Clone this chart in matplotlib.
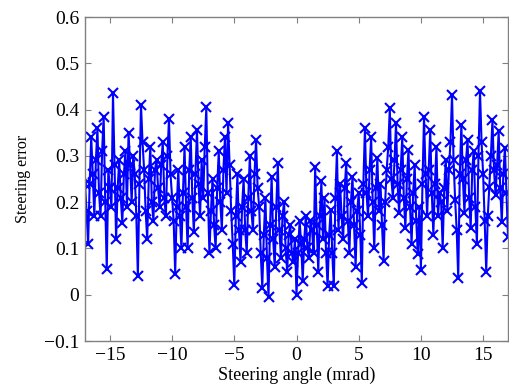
import numpy as np
import matplotlib
matplotlib.use("Agg")
import matplotlib.pyplot as plt

plt.rcParams['font.family'] = ['Liberation Serif', 'DejaVu Serif']
plt.rcParams['axes.unicode_minus'] = True

# Steering error, angle grid from -17 to 17 mrad.
angle_start, angle_end = -17.0, 17.0
# samples at the grid points -17, -16.75, ..., 17
error_main = [
    0.24, 0.11, 0.34, 0.17, 0.36, 0.17, 0.385, 0.055, 0.23, 0.435,
    0.12, 0.29, 0.155, 0.31, 0.35, 0.20, 0.26, 0.04, 0.41, 0.27,
    0.12, 0.32, 0.16, 0.29, 0.19, 0.33, 0.17, 0.38, 0.21, 0.045,
    0.27, 0.10, 0.32, 0.10, 0.34, 0.135, 0.355, 0.17, 0.21, 0.405,
    0.09, 0.25, 0.10, 0.31, 0.14, 0.34, 0.37, 0.18, 0.02, 0.26,
    0.07, 0.25, 0.09, 0.30, 0.14, 0.335, 0.19, 0.015, 0.21, -0.005,
    0.255, 0.06, 0.285, 0.08, 0.20, 0.05, 0.15, 0.07, 0.0, 0.16,
    0.03, 0.17, 0.08, 0.14, 0.275, 0.05, 0.245, 0.21, 0.018, 0.183,
    0.018, 0.31, 0.24, 0.12, 0.285, 0.09, 0.255, 0.06, 0.22, 0.025,
    0.36, 0.17, 0.34,
    0.10, 0.295, 0.24, 0.072, 0.27, 0.403, 0.21, 0.37, 0.176, 0.34,
    0.144, 0.313, 0.11, 0.28, 0.087, 0.054, 0.385,
    0.17, 0.356, 0.13, 0.32, 0.22, 0.10, 0.29, 0.27, 0.432, 0.205,
    0.036, 0.367, 0.176, 0.335, 0.144, 0.31, 0.11, 0.44, 0.26, 0.05,
    0.233, 0.378, 0.215, 0.353, 0.157, 0.317, 0.125,
]
# samples half-way between those grid points
error_mid = [
    0.18, 0.24, 0.26, 0.29, 0.22, 0.31, 0.20, 0.27, 0.19, 0.28,
    0.23, 0.21, 0.26, 0.19, 0.28, 0.30, 0.17, 0.24, 0.33, 0.18,
    0.25, 0.20, 0.27, 0.23, 0.28, 0.21, 0.30, 0.26, 0.16, 0.19,
    0.17, 0.22, 0.19, 0.27, 0.21, 0.26, 0.24, 0.29, 0.32, 0.22,
    0.18, 0.15, 0.23, 0.20, 0.27, 0.22, 0.28, 0.11, 0.17, 0.14,
    0.19, 0.14, 0.21, 0.18, 0.26, 0.23, 0.09, 0.13, 0.08, 0.15,
    0.12, 0.19, 0.14, 0.17, 0.10, 0.13, 0.09, 0.12, 0.09, 0.11,
    0.12, 0.10, 0.16, 0.09, 0.15, 0.17, 0.12, 0.09, 0.13, 0.09,
    0.21, 0.14, 0.17, 0.23, 0.16, 0.20, 0.15, 0.18, 0.13, 0.24,
    0.22, 0.27, 0.20,
    0.23, 0.18, 0.15, 0.20, 0.32, 0.25, 0.29, 0.24, 0.27, 0.21,
    0.25, 0.19, 0.22, 0.16, 0.19, 0.24, 0.26,
    0.27, 0.22, 0.24, 0.17, 0.20, 0.23, 0.18, 0.33, 0.29, 0.14,
    0.26, 0.25, 0.29, 0.21, 0.27, 0.19, 0.30, 0.33, 0.16, 0.17,
    0.30, 0.27, 0.28, 0.23, 0.26, 0.22,
]

steering_error = np.empty(len(error_main) + len(error_mid))
steering_error[0::2] = error_main
steering_error[1::2] = error_mid
steering_angle = np.linspace(angle_start, angle_end, len(steering_error))

x_ticks = [-15, -10, -5, 0, 5, 10, 15]
y_ticks = [-0.1, 0, 0.1, 0.2, 0.3, 0.4, 0.5, 0.6]
y_tick_labels = ["\u22120.1", "0", "0.1", "0.2", "0.3", "0.4", "0.5", "0.6"]

fig = plt.figure(figsize=(5.09, 3.89), dpi=100)
ax = fig.add_axes([85/509, 1 - 341/389, (508 - 85)/509, (341 - 17)/389])

ax.plot(steering_angle, steering_error, color=(0, 0, 1), linewidth=1.5,
        marker='x', markersize=6.5, markeredgewidth=1.5)

ax.set_xlim(angle_start, angle_end)
ax.set_ylim(-0.1, 0.6)
ax.set_xticks(x_ticks)
ax.set_xticklabels([str(t).replace('-', '\u2212') for t in x_ticks])
ax.set_yticks(y_ticks)
ax.set_yticklabels(y_tick_labels)

ax.tick_params(direction='in', top=True, right=True, length=4, width=0.8,
               colors='#808080', labelcolor='black', labelsize=14, pad=4)
for s in ax.spines.values():
    s.set_color('#808080')
    s.set_linewidth(1.0)

ax.set_xlabel("Steering angle (mrad)", fontsize=13)
ax.set_ylabel("Steering error", fontsize=11.5)
ax.xaxis.set_label_coords(0.5, -0.08)
ax.yaxis.set_label_coords(-0.128, 0.5)

fig.savefig("out.png", dpi=100)
